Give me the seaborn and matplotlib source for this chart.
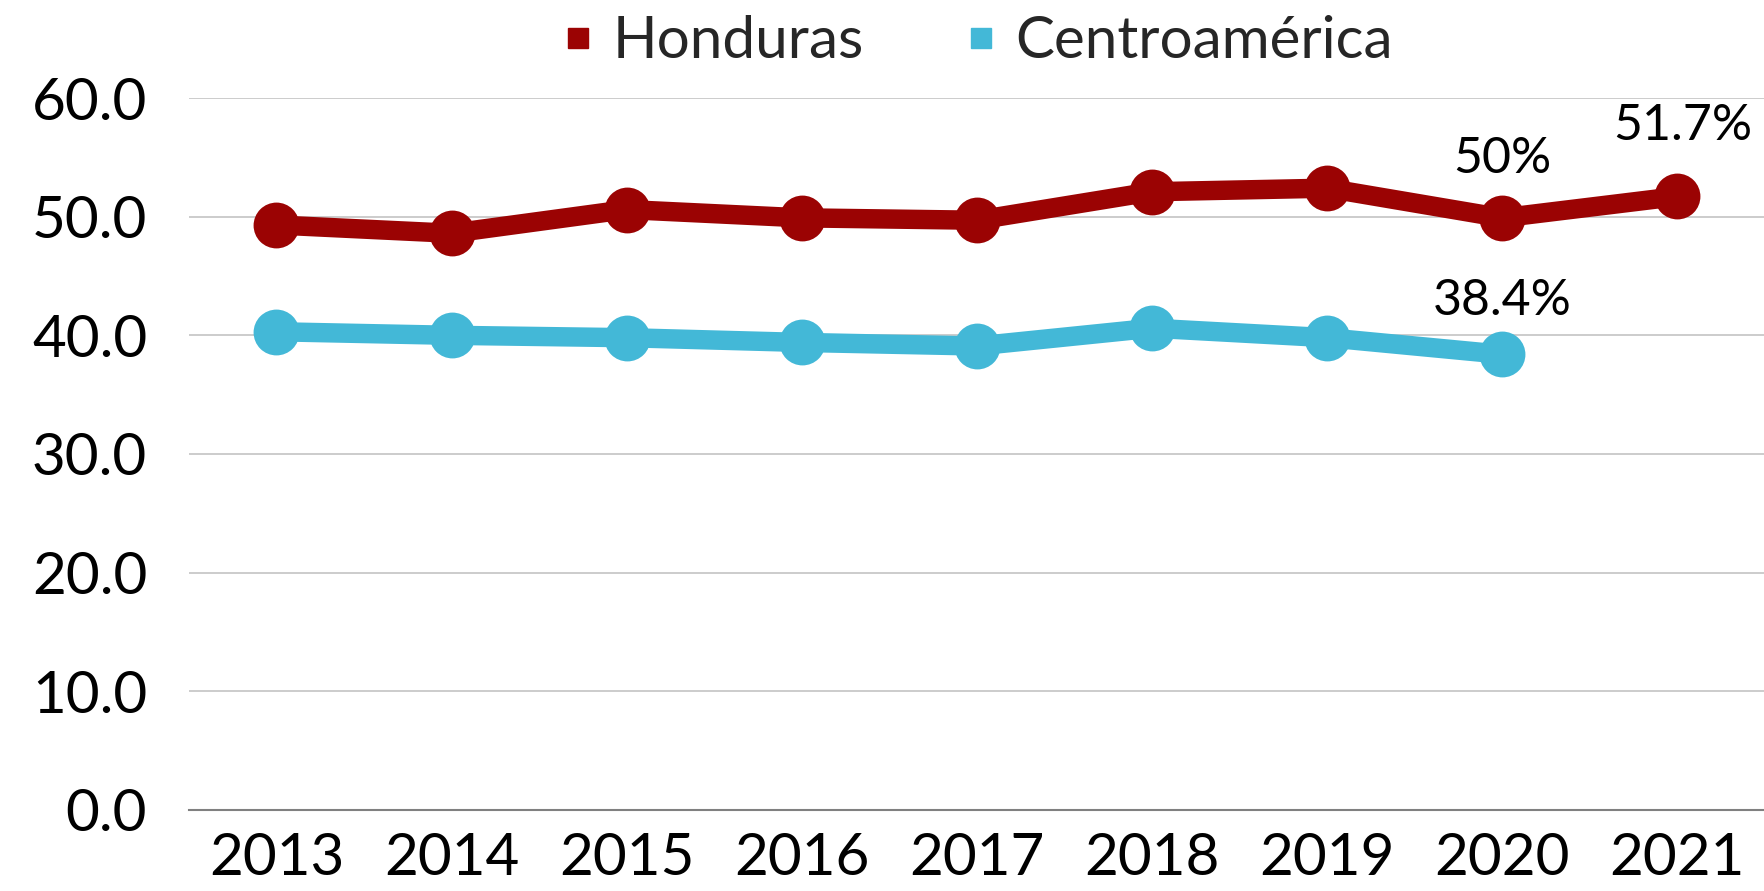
import pandas as pd
import matplotlib.pyplot as plt
import seaborn as sns
from matplotlib.lines import Line2D

# Data
years = ["2013", "2014", "2015", "2016", "2017", "2018", "2019", "2020", "2021"]
honduras = [49.3, 48.6, 50.6, 49.9, 49.7, 52.1, 52.4, 49.9, 51.7]
centroamerica = [40.3, 40.0, 39.8, 39.4, 39.1, 40.6, 39.8, 38.4, None]
series_names = ["Honduras", "Centroamérica"]
colors = ["#9b0303", "#43b8d7"]

df = pd.DataFrame({
    "year": years * 2,
    "value": honduras + centroamerica,
    "serie": [series_names[0]] * len(years) + [series_names[1]] * len(years),
}).dropna()

sns.set_style("white")
plt.rcParams['font.family'] = ['Lato', 'DejaVu Sans']

fig = plt.figure(figsize=(17.65, 8.91), dpi=100)
ax = fig.add_axes([0.107, 0.091, 0.893, 0.799])

sns.lineplot(data=df, x="year", y="value", hue="serie", palette=colors,
             hue_order=series_names, sort=False, linewidth=14, marker="o",
             markersize=33, markeredgewidth=0, legend=False, ax=ax)

ax.set_xlim(-0.5, len(years) - 0.5)
ax.set_ylim(0, 60)
ax.set_yticks(range(0, 61, 10))
ax.set_yticklabels([f"{v:.1f}" for v in range(0, 61, 10)])
ax.grid(axis="y", color="#c8c8c8", linewidth=1.3)
ax.set_axisbelow(True)
for s in ["top", "right", "left"]:
    ax.spines[s].set_visible(False)
ax.spines["bottom"].set_color("#808080")
ax.spines["bottom"].set_linewidth(1.5)
ax.tick_params(axis="both", length=0, labelsize=42, colors="black")
ax.tick_params(axis="y", pad=30)
ax.tick_params(axis="x", pad=16)
ax.set_xlabel("")
ax.set_ylabel("")

# Data labels
ax.annotate("50%", (7, honduras[7]), xytext=(0, 26), textcoords="offset points",
            ha="center", va="bottom", fontsize=36, color="black")
ax.annotate("51.7%", (8, honduras[8]), xytext=(4, 34), textcoords="offset points",
            ha="center", va="bottom", fontsize=36, color="black")
ax.annotate("38.4%", (7, centroamerica[7]), xytext=(0, 22), textcoords="offset points",
            ha="center", va="bottom", fontsize=36, color="black")

handles = [Line2D([], [], linestyle="none", marker="s", markersize=15,
                  color=c) for c in colors]
fig.legend(handles, series_names, loc="upper center", bbox_to_anchor=(0.55, 1.042),
           ncol=2, frameon=False, fontsize=42, handletextpad=0.1,
           columnspacing=1.5, handlelength=1.0)

fig.savefig("out.png", dpi=100)
